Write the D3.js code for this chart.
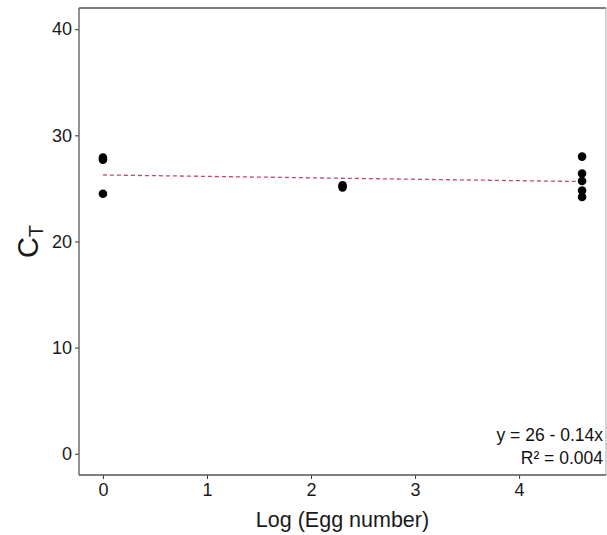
<!DOCTYPE html>
<html><head><meta charset="utf-8">
<script src="https://cdn.jsdelivr.net/npm/d3@7/dist/d3.min.js"></script>
<style>body{margin:0;background:#fff}svg{display:block}text{font-family:"Liberation Sans",Arial,sans-serif}</style>
</head><body>
<svg id="c" width="607" height="535"></svg>
<script>
const logEgg = [0, 0, 0, 2.303, 2.303, 4.605, 4.605, 4.605, 4.605, 4.605];
const ctValues = [27.9, 27.7, 24.5, 25.3, 25.1, 28.0, 26.4, 25.7, 24.8, 24.2];
const xTicks = [0, 1, 2, 3, 4];
const yTicks = [0, 10, 20, 30, 40];
const fitIntercept = 26.27;
const fitSlope = -0.135;
const eqLines = ["y = 26 - 0.14x", "R\u00b2 = 0.004"];

const svg = d3.select("#c");
const L = 79, R = 606, T = 8, B = 475;
const x = d3.scaleLinear().domain([-0.23, 4.835]).range([L, R]);
const y = d3.scaleLinear().domain([-2, 42]).range([B, T]);

// y axis
const ya = svg.append("g").attr("transform", `translate(${L},0)`)
  .call(d3.axisLeft(y).tickValues(yTicks).tickFormat(d3.format("d")).tickSize(4).tickPadding(3));
ya.select(".domain").remove();
ya.selectAll("line").attr("stroke", "#333");
ya.selectAll("text").attr("font-size", 18).attr("fill", "#1a1a1a")
  .style("font-family", '"Liberation Sans",Arial,sans-serif');

const xa = svg.append("g").attr("transform", `translate(0,${B})`)
  .call(d3.axisBottom(x).tickValues(xTicks).tickFormat(d3.format("d")).tickSize(4).tickPadding(4));
xa.select(".domain").remove();
xa.selectAll("line").attr("stroke", "#333");
xa.selectAll("text").attr("font-size", 18).attr("fill", "#1a1a1a")
  .style("font-family", '"Liberation Sans",Arial,sans-serif');

// panel border
svg.append("line").attr("x1", L).attr("x2", R).attr("y1", T).attr("y2", T).attr("stroke", "#555").attr("stroke-width", 1.3);
svg.append("line").attr("x1", R).attr("x2", R).attr("y1", T).attr("y2", B).attr("stroke", "#aaa").attr("stroke-width", 1);
svg.append("line").attr("x1", L).attr("x2", L).attr("y1", T).attr("y2", B).attr("stroke", "#555").attr("stroke-width", 1.3);
svg.append("line").attr("x1", L).attr("x2", R).attr("y1", B).attr("y2", B).attr("stroke", "#555").attr("stroke-width", 1.3);

// fit line
const x0 = d3.min(logEgg), x1 = d3.max(logEgg);
svg.append("line")
  .attr("x1", x(x0)).attr("x2", x(x1))
  .attr("y1", y(fitIntercept + fitSlope * x0)).attr("y2", y(fitIntercept + fitSlope * x1))
  .attr("stroke", "#c4457a").attr("stroke-width", 1.3).attr("stroke-dasharray", "4,3");

// points
svg.append("g").selectAll("circle").data(logEgg).join("circle")
  .attr("cx", d => x(d)).attr("cy", (d, i) => y(ctValues[i])).attr("r", 4.3).attr("fill", "#000");

// equation
svg.append("g").selectAll("text").data(eqLines).join("text")
  .attr("x", 603).attr("y", (d, i) => 441 + i * 23)
  .attr("text-anchor", "end").attr("font-size", 17.5).attr("fill", "#111").text(d => d);

// axis titles
svg.append("text").attr("x", (L + R) / 2).attr("y", 527).attr("text-anchor", "middle")
  .attr("font-size", 21.5).attr("fill", "#1a1a1a").text("Log (Egg number)");
const yt = svg.append("text").attr("transform", `translate(38,${(T + B) / 2}) rotate(-90)`)
  .attr("text-anchor", "middle").attr("fill", "#1a1a1a");
yt.append("tspan").attr("font-size", 29).text("C");
yt.append("tspan").attr("font-size", 20).attr("dy", 5).text("T");
</script>
</body></html>
